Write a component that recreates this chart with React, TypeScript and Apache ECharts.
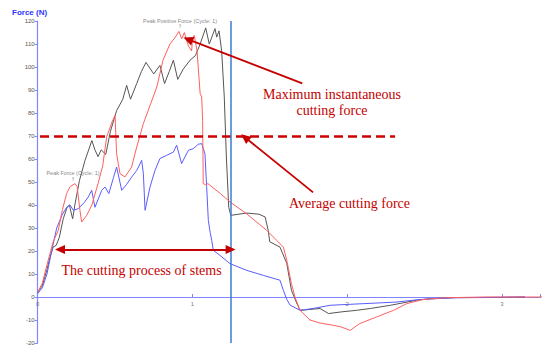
import React, { useEffect, useRef } from "react";
import * as echarts from "echarts";

const blackCurve: number[][] = [
  [0, 2], [0.03, 5], [0.06, 12], [0.08, 17.4], [0.1, 21.7], [0.12, 22.5], [0.14, 26], [0.165, 34],
  [0.19, 39], [0.205, 40], [0.215, 37], [0.226, 34], [0.24, 40], [0.27, 50.7], [0.306, 59.4], [0.35, 68],
  [0.37, 64], [0.39, 61], [0.41, 64], [0.44, 62], [0.47, 72], [0.51, 81], [0.55, 86], [0.575, 92],
  [0.6, 86], [0.64, 92.8], [0.67, 98], [0.7, 102], [0.75, 97], [0.79, 100.7], [0.82, 92.8], [0.85, 98],
  [0.877, 103], [0.905, 94.6], [0.94, 99], [0.985, 103], [1.02, 105], [1.05, 110], [1.086, 117],
  [1.109, 110], [1.146, 116.7], [1.157, 113], [1.172, 115.7], [1.189, 107], [1.206, 87], [1.22, 60],
  [1.235, 39], [1.248, 35.5], [1.35, 36.5], [1.43, 36], [1.47, 34.8], [1.49, 29], [1.5, 24],
  [1.566, 21.7], [1.61, 14.6], [1.64, 3], [1.67, -2], [1.696, -5.8], [1.825, -5], [1.88, -7.2],
  [1.96, -6.5], [2.06, -5.8], [2.15, -5], [2.28, -3.6], [2.45, -1.4], [2.54, -0.7], [2.7, -0.3],
  [3.0, -0.2], [3.15, 0],
];

const redCurve: number[][] = [
  [0, 2], [0.03, 6], [0.06, 14], [0.1, 24], [0.133, 29], [0.16, 38], [0.187, 45], [0.21, 48],
  [0.241, 49.3], [0.255, 48], [0.273, 37.7], [0.284, 32.6], [0.317, 35.5], [0.35, 40], [0.39, 49.3],
  [0.42, 57], [0.446, 69.6], [0.48, 76], [0.5, 79], [0.51, 62.3], [0.532, 53.6], [0.564, 52.2],
  [0.607, 56.5], [0.64, 65.2], [0.683, 75.4], [0.73, 84], [0.77, 91.3], [0.81, 103], [0.855, 110],
  [0.89, 113], [0.913, 115.5], [0.931, 112.3], [0.948, 115], [0.963, 111.6], [0.975, 109],
  [0.995, 107], [1.0, 111.6], [1.012, 113.8], [1.03, 107], [1.05, 88.4], [1.06, 87], [1.066, 76.8],
  [1.07, 49.3], [1.085, 48.8], [1.1, 49.3], [1.18, 45], [1.243, 41.3], [1.35, 36.2], [1.48, 29],
  [1.545, 24.6], [1.588, 21.7], [1.61, 16], [1.64, 5.8], [1.663, 0], [1.696, -5.8], [1.76, -10],
  [1.825, -11.3], [1.91, -12.3], [1.96, -13], [2.02, -14.5], [2.08, -11.6], [2.19, -8.7], [2.3, -5.8],
  [2.385, -2.9], [2.49, -1.1], [2.64, -0.3], [2.9, 0], [3.3, 0],
];

const blueCurve: number[][] = [
  [0, 1.5], [0.03, 4], [0.06, 10], [0.09, 20], [0.123, 30], [0.16, 36], [0.187, 39], [0.209, 40],
  [0.23, 37.7], [0.262, 38.4], [0.3, 41], [0.327, 43.5], [0.349, 46.4], [0.37, 39], [0.414, 46.4],
  [0.435, 47.8], [0.46, 45], [0.49, 52], [0.51, 56.5], [0.543, 46.4], [0.575, 49], [0.608, 52.2],
  [0.64, 55], [0.672, 59.4], [0.683, 53.6], [0.694, 37.7], [0.726, 47.8], [0.758, 55], [0.79, 60.2],
  [0.834, 61.6], [0.877, 63], [0.898, 66], [0.93, 58], [0.974, 63.8], [1.006, 64.5], [1.038, 66.4],
  [1.06, 66.7], [1.081, 62.3], [1.092, 48], [1.103, 33.3], [1.115, 28], [1.125, 24.6], [1.135, 20.3],
  [1.178, 18.1], [1.243, 14.5], [1.35, 11.6], [1.458, 9.4], [1.566, 7.3], [1.588, 2.9], [1.61, -1],
  [1.631, -3.5], [1.696, -5.8], [1.78, -5], [1.89, -3.6], [2.105, -2.9], [2.32, -2.2], [2.47, -1.1],
  [2.7, -0.3], [3.15, 0],
];

const xTickValues = [0, 1, 2, 3];
const cutEndTime = 1.247;
const averageForce = 70;
const averageLineSpan = [0.015, 2.31];
const maxArrow = [[1.71, 92.9], [0.972, 112]];
const avgArrow = [[1.78, 45.5], [1.34, 69.4]];
const processArrow = [[0.144, 20.7], [1.247, 20.7]];

export default function App() {
  const ref = useRef<HTMLDivElement>(null);
  useEffect(() => {
    if (!ref.current) return;
    document.body.style.margin = "0";
    const chart = echarts.init(ref.current, undefined, { renderer: "svg" });
    const annRed = "#c40000";
    const arrowLine = (pts: number[][], both: boolean) => [
      { coord: pts[0], symbol: both ? "triangle" : "none", symbolSize: [9, 10] },
      { coord: pts[1], symbol: "triangle", symbolSize: [9, 10] },
    ];
    chart.setOption({
      animation: false,
      grid: { left: 37.7, right: 9.5, top: 21, bottom: 12, containLabel: false },
      xAxis: {
        type: "value",
        min: 0,
        max: 3.25,
        interval: 1,
        axisLine: { onZero: true, lineStyle: { color: "#7f86ff", width: 1.2 } },
        axisTick: { show: true, inside: true, length: 3, lineStyle: { color: "#7f86ff" } },
        axisLabel: { show: false },
        splitLine: { show: false },
      },
      yAxis: {
        type: "value",
        min: -20,
        max: 120,
        interval: 10,
        axisLine: { show: true, lineStyle: { color: "#7f86ff", width: 1.2 } },
        axisTick: { show: true, length: 3, lineStyle: { color: "#7f86ff" } },
        axisLabel: { color: "#555", fontSize: 6, margin: 3, fontFamily: "Liberation Sans" },
        splitLine: { show: false },
      },
      series: [
        {
          type: "line",
          data: blackCurve,
          showSymbol: false,
          lineStyle: { color: "#555555", width: 1 },
          z: 2,
        },
        {
          type: "line",
          data: blueCurve,
          showSymbol: false,
          lineStyle: { color: "#5a5cff", width: 1 },
          z: 3,
        },
        {
          type: "line",
          data: redCurve,
          showSymbol: false,
          lineStyle: { color: "#ff5f5f", width: 1 },
          z: 4,
          markLine: {
            silent: true,
            animation: false,
            label: { show: false },
            symbol: "none",
            data: [
              [
                { coord: [averageLineSpan[0], averageForce], symbol: "none" },
                { coord: [averageLineSpan[1], averageForce], symbol: "none" },
              ],
            ],
            lineStyle: { color: "#cc0000", width: 2.5, type: [9, 5] },
          },
        },
        {
          type: "scatter",
          data: xTickValues.map((v) => [v, 0]),
          symbolSize: 0,
          silent: true,
          z: 1,
          label: {
            show: true,
            position: "bottom",
            distance: 4,
            formatter: (p: any) => String(p.value[0]),
            color: "#555",
            fontSize: 6,
            fontFamily: "Liberation Sans",
          },
        },
        {
          type: "line",
          data: [],
          z: 5,
          markLine: {
            silent: true,
            animation: false,
            label: { show: false },
            symbol: "none",
            lineStyle: { color: "#3a7bd5", width: 1.5, type: "solid" },
            data: [{ xAxis: cutEndTime }],
          },
        },
        {
          type: "line",
          data: [],
          z: 6,
          markLine: {
            silent: true,
            animation: false,
            label: { show: false },
            lineStyle: { color: annRed, width: 1.8, type: "solid" },
            data: [
              arrowLine(maxArrow, false),
              arrowLine(avgArrow, false),
              arrowLine(processArrow, true),
            ],
          },
        },
      ],
      graphic: [
        {
          type: "text",
          left: 12,
          top: 8,
          style: { text: "Force (N)", fill: "#2b35ff", font: "bold 8px 'Liberation Sans', Arial" },
        },
        {
          type: "text",
          x: 180,
          y: 20.5,
          style: {
            text: "Peak Positive Force (Cycle: 1)",
            fill: "#8a8a8a",
            font: "5.5px 'Liberation Sans', Arial",
            align: "center",
            verticalAlign: "middle",
          },
        },
        {
          type: "text",
          x: 180,
          y: 26,
          style: { text: "↑", fill: "#8a8a8a", font: "5px 'DejaVu Sans'", align: "center", verticalAlign: "middle" },
        },
        {
          type: "text",
          x: 73,
          y: 173.3,
          style: {
            text: "Peak Force (Cycle: 1)",
            fill: "#8a8a8a",
            font: "5.5px 'Liberation Sans', Arial",
            align: "center",
            verticalAlign: "middle",
          },
        },
        {
          type: "text",
          x: 73,
          y: 178.5,
          style: { text: "↑", fill: "#8a8a8a", font: "5px 'DejaVu Sans'", align: "center", verticalAlign: "middle" },
        },
        {
          type: "text",
          x: 332,
          y: 94.3,
          style: {
            text: "Maximum instantaneous",
            fill: annRed,
            font: "14px 'Liberation Serif', 'Times New Roman', serif",
            align: "center",
            verticalAlign: "middle",
          },
        },
        {
          type: "text",
          x: 332,
          y: 110.7,
          style: {
            text: "cutting force",
            fill: annRed,
            font: "14px 'Liberation Serif', 'Times New Roman', serif",
            align: "center",
            verticalAlign: "middle",
          },
        },
        {
          type: "text",
          x: 349.5,
          y: 203.3,
          style: {
            text: "Average cutting force",
            fill: annRed,
            font: "14px 'Liberation Serif', 'Times New Roman', serif",
            align: "center",
            verticalAlign: "middle",
          },
        },
        {
          type: "text",
          x: 141.5,
          y: 270,
          style: {
            text: "The cutting process of stems",
            fill: annRed,
            font: "14px 'Liberation Serif', 'Times New Roman', serif",
            align: "center",
            verticalAlign: "middle",
          },
        },
      ],
    });
    return () => chart.dispose();
  }, []);
  return <div ref={ref} style={{ width: 550, height: 355 }} />;
}
